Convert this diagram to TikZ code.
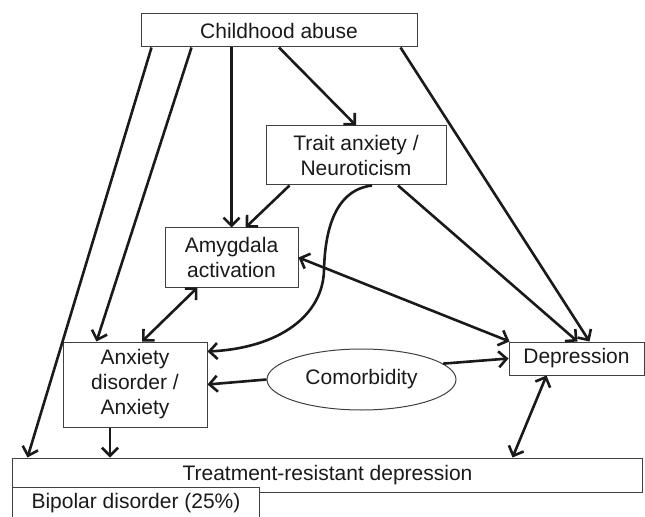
\documentclass[tikz,border=0pt]{standalone}
\usepackage{fontspec}
\setmainfont{Liberation Sans}
\usetikzlibrary{arrows.meta,shapes.geometric,calc}
\definecolor{ink}{HTML}{1A1A1A}
\definecolor{frame}{HTML}{404040}
\tikzset{
  box/.style={draw=frame, line width=1bp, fill=white, rectangle, inner sep=0pt,
    align=center, text=ink, font=\fontsize{21bp}{25bp}\selectfont},
  oval/.style={draw=frame, line width=1bp, fill=white, ellipse, inner sep=0pt,
    text=ink, font=\fontsize{21bp}{25bp}\selectfont},
  conn/.style={draw=ink, line width=2.6bp,
    -{Straight Barb[length=8bp,width=16bp,line width=2.6bp]}},
  bconn/.style={draw=ink, line width=2.6bp,
    {Straight Barb[length=8bp,width=16bp,line width=2.6bp]}-{Straight Barb[length=8bp,width=16bp,line width=2.6bp]}},
}
\begin{document}
\begin{tikzpicture}[x=1bp,y=-1bp]
\useasboundingbox (0,0) rectangle (645,517);
\clip (0,0) rectangle (645,517);
\fill[white] (0,0) rectangle (645,517);

% nodes
\node[box, minimum width=276bp, minimum height=33bp] (CA) at (279,30.5) {Childhood abuse};
\node[box, minimum width=180bp, minimum height=59bp] (TA) at (356,155.5) {Trait anxiety /\\Neuroticism};
\node[box, minimum width=133bp, minimum height=59bp] (AM) at (231.5,257.5) {Amygdala\\activation};
\node[box, minimum width=144bp, minimum height=85bp] (AD) at (135,384.5) {Anxiety\\disorder /\\Anxiety};
\node[box, minimum width=135bp, minimum height=33bp] (DE) at (576.5,358.5) {Depression};
\node[oval, minimum width=189bp, minimum height=61bp] (CO) at (361.5,379.5) {Comorbidity};
\node[box, minimum width=629bp, minimum height=34bp] (TR) at (327.5,475) {Treatment-resistant depression};
\node[box, minimum width=246bp, minimum height=33bp] (BP) at (136,503.5) {Bipolar disorder (25\%)};

% connectors from childhood abuse
\draw[conn] ([xshift=11bp]CA.south west) -- ([xshift=15bp]TR.north west);
\draw[conn] ([xshift=51bp]CA.south west) -- ([xshift=34bp]AD.north west);
\draw[conn] (CA.south -| AM.north) -- (AM.north);
\draw[conn] (CA.south) -- (TA.north);
\draw[conn] ([xshift=-17bp]CA.south east) -- ([xshift=81bp]DE.north west);

% from trait anxiety
\draw[conn] ([xshift=24bp]TA.south west) -- ([xshift=14bp]AM.north);
\draw[conn] ([xshift=42bp]TA.south) -- ([xshift=1bp]DE.north);
\draw[conn] ([xshift=16bp]TA.south) .. controls (335,190) and (325,230) .. (324,270)
  .. controls (323,315) and (280,348) .. ([yshift=-10bp]AD.north east);

% bidirectional
\draw[bconn] (AM.east) -- ([xshift=1bp]DE.north west);
\draw[bconn] ([xshift=-34bp]AM.south) -- ([xshift=7bp]AD.north);
\draw[bconn] ([xshift=-30bp]DE.south) -- ([xshift=-130bp]TR.north east);

% comorbidity
\draw[conn] (CO.west) -- (AD.east);
\draw[conn] (CO.11) -- (DE.west);

% anxiety to treatment
\draw[conn] ([xshift=-25bp]AD.south) -- ([xshift=-25bp]AD.south |- TR.north);

% redraw bipolar box on top
\node[box, minimum width=246bp, minimum height=33bp] at (BP) {Bipolar disorder (25\%)};
\end{tikzpicture}
\end{document}
